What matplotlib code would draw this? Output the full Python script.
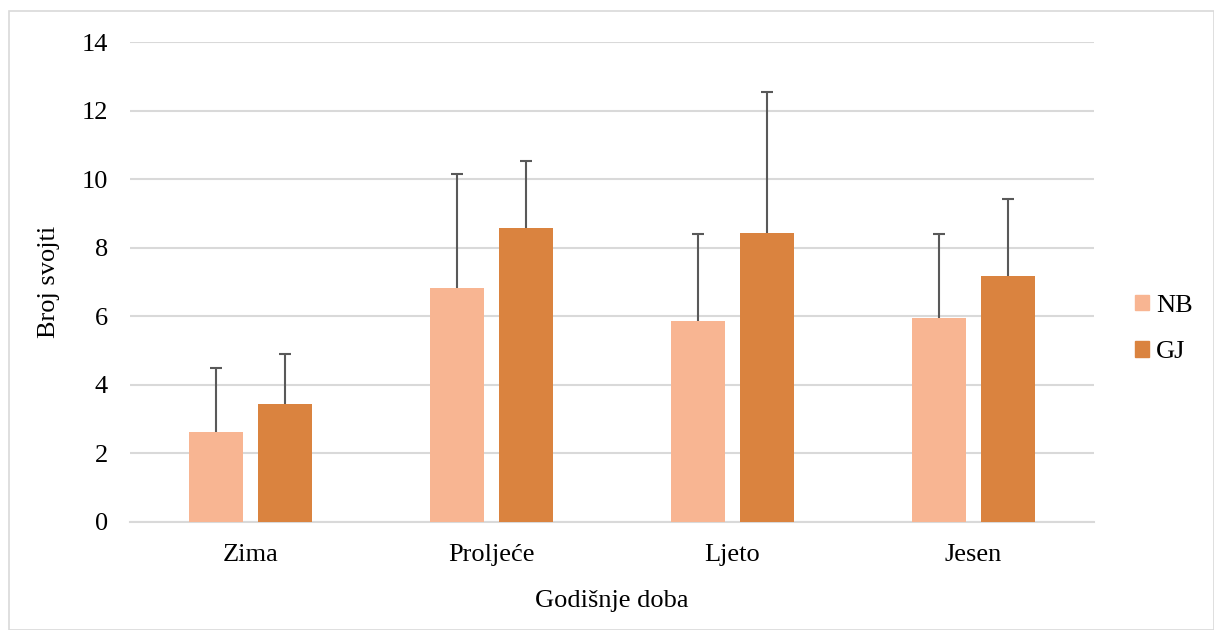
import matplotlib
matplotlib.use("Agg")
import matplotlib.pyplot as plt
from matplotlib.patches import Rectangle, Patch
import numpy as np

categories = ["Zima", "Proljeće", "Ljeto", "Jesen"]
series_names = ["NB", "GJ"]
nb_values = [2.62, 6.83, 5.86, 5.94]
nb_err = [1.88, 3.32, 2.54, 2.47]
gj_values = [3.43, 8.57, 8.44, 7.17]
gj_err = [1.48, 1.96, 4.11, 2.24]
y_ticks = [0, 2, 4, 6, 8, 10, 12, 14]

plt.rcParams['font.family'] = ['Liberation Serif', 'DejaVu Serif']
FS = 19

W, H = 1214, 630
fig = plt.figure(figsize=(W / 100, H / 100), dpi=100)
ax = fig.add_axes([130 / W, 1 - 522 / H, (1094 - 130) / W, (522 - 42) / H])

x = np.arange(len(categories))
bw = 54 / 241
off = 34.5 / 241
c_nb = "#F8B592"
c_gj = "#DA833F"
err_kw = dict(ecolor="#595959", elinewidth=1.5, capsize=4.6, capthick=1.5)

ax.bar(x - off, nb_values, bw, color=c_nb, zorder=3)
eb1 = ax.errorbar(x - off, nb_values, yerr=[np.zeros(4), nb_err], fmt="none", zorder=4, **err_kw)
ax.bar(x + off, gj_values, bw, color=c_gj, zorder=3)
eb2 = ax.errorbar(x + off, gj_values, yerr=[np.zeros(4), gj_err], fmt="none", zorder=4, **err_kw)
for eb in (eb1, eb2):
    eb[1][0].set_visible(False)  # hide lower caps (plus-only error bars)

ax.set_xlim(-0.5, len(categories) - 0.5)
ax.set_ylim(0, 14)
ax.set_yticks(y_ticks)
ax.set_yticklabels([str(t) for t in y_ticks], fontsize=FS)
ax.set_xticks(x)
ax.set_xticklabels(categories, fontsize=FS)
ax.tick_params(axis="x", length=0, pad=15.5)
ax.tick_params(axis="y", length=0, pad=16)
ax.grid(axis="y", color="#D9D9D9", linewidth=1.5, zorder=0)
for s in ["top", "right", "left"]:
    ax.spines[s].set_visible(False)
ax.spines["bottom"].set_color("#D9D9D9")
ax.spines["bottom"].set_linewidth(1.5)

fig.text(612 / W, 1 - 607 / H, "Godišnje doba", ha="center", va="baseline", fontsize=FS)
fig.text(49 / W, 1 - 282 / H, "Broj svojti", ha="center", va="center", rotation=90, fontsize=FS)

handles = [Patch(color=c_nb), Patch(color=c_gj)]
fig.legend(handles, series_names, loc="center left", bbox_to_anchor=(1135 / W, 1 - 329 / H),
           frameon=False, fontsize=FS, handlelength=0.53, handleheight=0.53,
           handletextpad=0.27, labelspacing=0.93, borderpad=0, borderaxespad=0)

fig.patches.append(Rectangle((9 / W, 0), 1 - 9 / W, 1 - 11 / H, transform=fig.transFigure,
                             fill=False, edgecolor="#D9D9D9", linewidth=1.2))

fig.savefig("out.png", dpi=100)
